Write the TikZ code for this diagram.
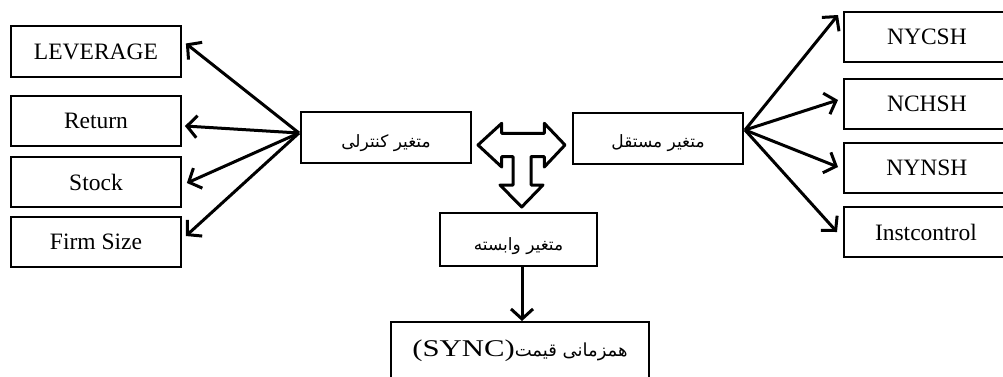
\documentclass[tikz,border=0pt]{standalone}
\usepackage{fontspec}
\setmainfont{Liberation Serif}
\newfontfamily\arabicfont[Script=Arabic]{DejaVu Sans}
\TeXXeTstate=1
\usetikzlibrary{arrows.meta,calc}
\newcommand{\fatext}[2]{\raisebox{-#1}[\height][\depth]{\arabicfont #2}}
\begin{document}
\begin{tikzpicture}[x=1pt,y=-1pt,
  box/.style={draw,line width=1.8pt,fill=white,inner sep=0pt,font=\fontsize{23.5}{27}\selectfont},
  fa/.style={font=\fontsize{17}{22}\selectfont},
  conn/.style={line width=3pt,-{Straight Barb[length=10pt,width=22pt,line width=3pt]}}]
\useasboundingbox (0,0) rectangle (1003,376);
\clip (0,0) rectangle (1003,376);
% left boxes
\node[box,minimum width=170pt,minimum height=51pt] (lev) at (96,51.5) {LEVERAGE};
\node[box,minimum width=170pt,minimum height=50pt] (ret) at (96,121) {Return};
\node[box,minimum width=170pt,minimum height=50pt] (stk) at (96,182) {Stock};
\node[box,minimum width=170pt,minimum height=50pt] (frm) at (96,242) {Firm Size};
% center boxes
\node[box,fa,minimum width=170pt,minimum height=51pt] (ctl) at (386,137.5) {\fatext{6pt}{\beginR متغیر کنترلی\endR}};
\node[box,fa,minimum width=170pt,minimum height=51pt] (ind) at (658,138.5) {\fatext{5pt}{\beginR متغیر مستقل\endR}};
\node[box,fa,minimum width=157pt,minimum height=53pt] (dep) at (518.5,239.5) {\fatext{7pt}{\beginR متغیر وابسته\endR}};
\node[box,minimum width=258pt,minimum height=70pt,anchor=north] (sync) at (520,321) {};
\node[font=\arabicfont\fontsize{18}{22}\selectfont,anchor=base,inner sep=0pt] (synct) at (520,356) {\beginR همزمانی قیمت\beginL{\fontsize{24}{27}\rmfamily\scalebox{1.28}[1]{(SYNC)}}\endL\endR};
% right boxes
\node[box,minimum width=166pt,minimum height=50pt,anchor=west] (nyc) at (843,37) {NYCSH};
\node[box,minimum width=166pt,minimum height=50pt,anchor=west] (nch) at (843,104) {NCHSH};
\node[box,minimum width=166pt,minimum height=50pt,anchor=west] (nyn) at (843,168) {NYNSH};
\node[box,minimum width=164pt,minimum height=50pt,anchor=west] (ins) at (843,232) {Instcontrol};
% control arrows
\coordinate (cs) at (299,133);
\draw[conn] (cs) -- ([xshift=4pt,yshift=8pt]lev.east);
\draw[conn] (cs) -- ([xshift=3pt,yshift=-5pt]ret.east);
\draw[conn] (cs) -- ([xshift=5pt,yshift=-1pt]stk.east);
\draw[conn] (cs) -- ([xshift=4pt,yshift=6pt]frm.east);
% independent arrows
\coordinate (is) at (745,130);
\draw[conn] (is) -- ([xshift=-5pt,yshift=22pt]nyc.west);
\draw[conn] (is) -- ([xshift=-5pt,yshift=4pt]nch.west);
\draw[conn] (is) -- ([xshift=-5pt,yshift=1pt]nyn.west);
\draw[conn] (is) -- ([xshift=-6pt]ins.west);
% dependent to sync
\coordinate (ds) at ($(dep.south)+(3.5,0)$);
\draw[conn] (ds) -- (ds |- sync.north);
% T block arrow
\draw[line width=3pt,line join=round,fill=white]
 (478,145) -- (501.7,123.3) -- (501.7,133.3) -- (544.3,133.3) -- (544.3,123.3) -- (565,145)
 -- (544.3,167) -- (544.3,156.7) -- (531,156.7) -- (531,185) -- (543,185) -- (521.7,207)
 -- (500,185) -- (513,185) -- (513,156.7) -- (501.7,156.7) -- (501.7,167) -- cycle;
\end{tikzpicture}
\end{document}
